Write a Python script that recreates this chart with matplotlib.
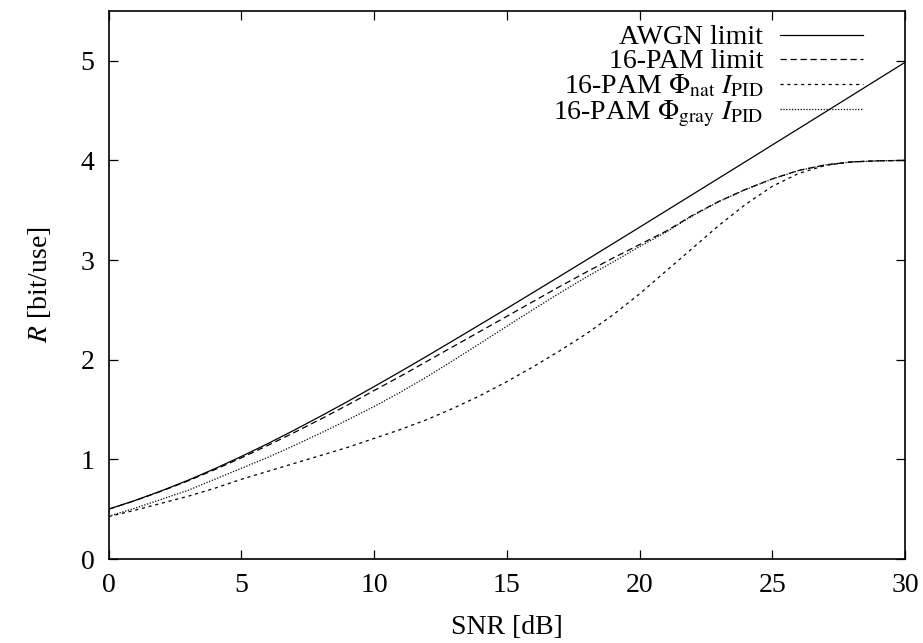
import numpy as np
import matplotlib
matplotlib.use("Agg")
import matplotlib.pyplot as plt

plt.rcParams['font.family'] = ['Liberation Serif', 'DejaVu Serif']
plt.rcParams['mathtext.fontset'] = 'stix'

# SNR grid [dB]
snr_db = list(range(0, 31))

# values
awgn = [0.500, 0.588, 0.685, 0.791, 0.906, 1.029, 1.158, 1.294, 1.435, 1.580,
        1.730, 1.882, 2.037, 2.195, 2.354, 2.514, 2.676, 2.838, 3.001, 3.165,
        3.329, 3.494, 3.659, 3.824, 3.989, 4.155, 4.320, 4.486, 4.652, 4.818,
        4.984]
pam16 = [0.500, 0.586, 0.682, 0.785, 0.897, 1.015, 1.140, 1.270, 1.405, 1.545,
         1.690, 1.835, 1.985, 2.135, 2.285, 2.435, 2.585, 2.735, 2.880, 3.020,
         3.155, 3.290, 3.450, 3.590, 3.710, 3.815, 3.900, 3.955, 3.985, 3.996,
         4.000]
pam16_nat = [0.425, 0.490, 0.560, 0.630, 0.710, 0.800, 0.880, 0.960, 1.040, 1.120,
             1.210, 1.300, 1.400, 1.515, 1.640, 1.780, 1.930, 2.090, 2.260, 2.450,
             2.660, 2.890, 3.120, 3.350, 3.560, 3.740, 3.870, 3.950, 3.985, 3.996,
             4.000]
pam16_gray = [0.430, 0.510, 0.600, 0.690, 0.800, 0.910, 1.020, 1.140, 1.265, 1.395,
              1.530, 1.675, 1.830, 1.995, 2.165, 2.335, 2.505, 2.670, 2.830, 2.980,
              3.135, 3.280, 3.445, 3.588, 3.708, 3.813, 3.899, 3.955, 3.985, 3.996,
              4.000]

labels = ['AWGN limit', '16-PAM limit',
          r'16-PAM $\Phi_{\mathrm{nat}}$ $I_{\mathrm{PID}}$',
          r'16-PAM $\Phi_{\mathrm{gray}}$ $I_{\mathrm{PID}}$']

fig = plt.figure(figsize=(9.23, 6.43), dpi=100)
ax = fig.add_axes([0.1176, 0.1306, 0.8629, 0.8524])

ax.plot(snr_db, awgn, color='black', lw=0.9, ls='-', label=labels[0])
ax.plot(snr_db, pam16, color='black', lw=0.9, ls=(0, (5, 3)), label=labels[1])
ax.plot(snr_db, pam16_nat, color='black', lw=0.9, ls=(0, (2.5, 3)), label=labels[2])
ax.plot(snr_db, pam16_gray, color='black', lw=0.9, ls=(0, (1, 1.3)), label=labels[3])

ax.set_xlim(0, 30)
ax.set_ylim(0, 5.5)
ax.set_xticks([0, 5, 10, 15, 20, 25, 30])
ax.set_yticks([0, 1, 2, 3, 4, 5])
ax.tick_params(direction='in', length=6.5, width=0.9, top=True, right=True,
               labelsize=20, pad=10)
for s in ax.spines.values():
    s.set_linewidth(1.2)

ax.set_xlabel('SNR [dB]', fontsize=20, labelpad=12)
ax.set_ylabel('$R$ [bit/use]', fontsize=20, labelpad=20)

leg = ax.legend(loc='upper right', frameon=False, markerfirst=False,
                fontsize=20, handlelength=3.0, handletextpad=0.6,
                labelspacing=-0.05, borderaxespad=0.1,
                bbox_to_anchor=(0.965, 1.0))

fig.savefig('out.png', dpi=100)
